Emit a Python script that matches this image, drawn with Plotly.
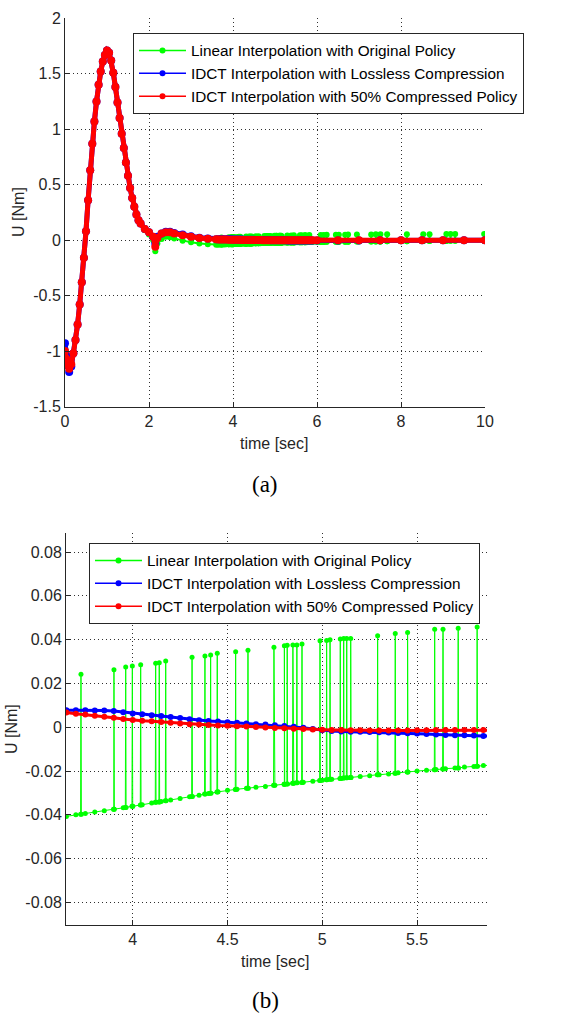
import plotly.graph_objects as go

# ---------------- data ----------------
# time samples for the transient (0 .. 3.6 s)
t_pre = [0.00, 0.03, 0.06, 0.10, 0.15, 0.20, 0.25, 0.30, 0.35, 0.40,
         0.45, 0.50, 0.55, 0.60, 0.65, 0.70, 0.75, 0.80, 0.85, 0.90,
         0.95, 1.00, 1.05, 1.10, 1.15, 1.20, 1.25, 1.30, 1.35, 1.40,
         1.45, 1.50, 1.55, 1.60, 1.65, 1.70, 1.75, 1.80, 1.90, 2.00,
         2.10, 2.15, 2.20, 2.30, 2.40, 2.50, 2.60, 2.80, 3.00, 3.20,
         3.40, 3.60]
red_pre = [-1.00, -1.07, -1.12, -1.16, -1.12, -1.02, -0.90, -0.76, -0.58, -0.38,
           -0.16, 0.08, 0.36, 0.63, 0.87, 1.07, 1.25, 1.40, 1.52, 1.61,
           1.67, 1.71, 1.69, 1.62, 1.51, 1.38, 1.24, 1.10, 0.96, 0.83,
           0.70, 0.58, 0.47, 0.38, 0.30, 0.23, 0.18, 0.15, 0.10, 0.07,
           0.03, -0.06, 0.02, 0.06, 0.07, 0.07, 0.06, 0.045, 0.03, 0.02,
           0.013, 0.008]
blue_pre = [-0.93, -1.04, -1.13, -1.19, -1.14, -1.02, -0.90, -0.76, -0.58, -0.38,
            -0.16, 0.08, 0.36, 0.63, 0.87, 1.07, 1.25, 1.40, 1.52, 1.61,
            1.67, 1.71, 1.69, 1.62, 1.51, 1.38, 1.24, 1.10, 0.96, 0.83,
            0.70, 0.58, 0.47, 0.38, 0.30, 0.23, 0.18, 0.15, 0.10, 0.07,
            0.03, -0.03, 0.03, 0.06, 0.075, 0.075, 0.065, 0.05, 0.035, 0.022,
            0.015, 0.009]
green_pre = [-1.00, -1.07, -1.12, -1.16, -1.12, -1.02, -0.90, -0.76, -0.58, -0.38,
             -0.16, 0.08, 0.36, 0.63, 0.87, 1.07, 1.25, 1.40, 1.52, 1.61,
             1.67, 1.71, 1.69, 1.62, 1.51, 1.38, 1.24, 1.10, 0.96, 0.83,
             0.70, 0.58, 0.47, 0.38, 0.30, 0.23, 0.18, 0.15, 0.09, 0.05,
             0.00, -0.10, -0.03, 0.01, 0.03, 0.025, 0.015, -0.005, -0.02, -0.03,
             -0.037, -0.041]

# time samples in the zoomed window (3.65 .. 5.85 s)
t_win = [3.65, 3.70, 3.75, 3.80, 3.85, 3.90, 3.95, 4.00, 4.05, 4.10,
         4.15, 4.20, 4.25, 4.30, 4.35, 4.40, 4.45, 4.50, 4.55, 4.60,
         4.65, 4.70, 4.75, 4.80, 4.85, 4.90, 4.95, 5.00, 5.05, 5.10,
         5.15, 5.20, 5.25, 5.30, 5.35, 5.40, 5.45, 5.50, 5.55, 5.60,
         5.65, 5.70, 5.75, 5.80, 5.85]
red_win = [0.0067, 0.0062, 0.0058, 0.0053, 0.0048, 0.0043, 0.0038, 0.0033, 0.0030, 0.0027,
           0.0024, 0.0020, 0.0017, 0.0014, 0.0012, 0.0010, 0.0008, 0.0007, 0.0005, 0.0003,
           0.0001, -0.0001, -0.0003, -0.0005, -0.0007, -0.0008, -0.0010, -0.0011, -0.0012, -0.0013,
           -0.0014, -0.0014, -0.0015, -0.0015, -0.0015, -0.0015, -0.0015, -0.0014, -0.0014, -0.0013,
           -0.0013, -0.0012, -0.0012, -0.0012, -0.0012]
blue_win = [0.0078, 0.0078, 0.0078, 0.0077, 0.0076, 0.0074, 0.0069, 0.0063, 0.0059, 0.0055,
            0.0051, 0.0047, 0.0042, 0.0036, 0.0032, 0.0029, 0.0026, 0.0023, 0.0020, 0.0017,
            0.0014, 0.0012, 0.0009, 0.0006, 0.0002, -0.0002, -0.0008, -0.0014, -0.0017, -0.0019,
            -0.0020, -0.0021, -0.0022, -0.0023, -0.0024, -0.0026, -0.0027, -0.0029, -0.0031, -0.0033,
            -0.0035, -0.0036, -0.0037, -0.0038, -0.0040]
green_win = [-0.0407, -0.0400, -0.0394, -0.0387, -0.0381, -0.0374, -0.0368, -0.0361, -0.0354, -0.0346,
             -0.0339, -0.0332, -0.0325, -0.0317, -0.0310, -0.0303, -0.0295, -0.0288, -0.0283, -0.0279,
             -0.0274, -0.0270, -0.0265, -0.0260, -0.0256, -0.0251, -0.0247, -0.0242, -0.0238, -0.0234,
             -0.0229, -0.0225, -0.0221, -0.0217, -0.0213, -0.0208, -0.0204, -0.0200, -0.0196, -0.0193,
             -0.0189, -0.0186, -0.0182, -0.0179, -0.0175]

# tail (5.9 .. 10 s)
t_post = [5.90, 6.00, 6.50, 7.00, 7.50, 8.00, 8.50, 9.00, 9.50, 10.00]
red_post = [-0.0012, -0.0011, -0.0009, -0.0007, -0.0005, -0.0004, -0.0003, -0.0002, -0.0001, 0.0]
blue_post = [-0.0040, -0.0041, -0.0035, -0.0028, -0.0020, -0.0014, -0.0009, -0.0005, -0.0002, 0.0]
green_post = [-0.0173, -0.0168, -0.0150, -0.0132, -0.0115, -0.0100, -0.0085, -0.0070, -0.0060, -0.0050]

# spikes of the linearly interpolated original policy
spike_t = [3.727, 3.901, 3.963, 3.998, 4.042, 4.121, 4.140, 4.174, 4.313, 4.381,
           4.411, 4.446, 4.543, 4.608, 4.745, 4.800, 4.815, 4.845, 4.866, 4.893,
           4.988, 5.023, 5.041, 5.095, 5.113, 5.129, 5.150, 5.292, 5.385, 5.450,
           5.593, 5.637, 5.717, 5.817, 6.09, 6.16, 6.23, 6.45, 6.52, 6.67,
           6.74, 6.95, 7.29, 7.40, 7.51, 7.67, 8.14, 8.53, 8.68, 9.08,
           9.18, 9.29, 9.98]
spike_top = [0.0242, 0.0262, 0.0275, 0.0280, 0.0285, 0.0292, 0.0295, 0.0302, 0.0320, 0.0325,
             0.0330, 0.0338, 0.0345, 0.0352, 0.0365, 0.0372, 0.0375, 0.0376, 0.0376, 0.0380,
             0.0395, 0.0396, 0.0400, 0.0403, 0.0405, 0.0405, 0.0405, 0.0418, 0.0428, 0.0433,
             0.0447, 0.0447, 0.0452, 0.0458, 0.047, 0.047, 0.048, 0.048, 0.049, 0.049,
             0.050, 0.050, 0.051, 0.052, 0.052, 0.052, 0.053, 0.054, 0.054, 0.055,
             0.055, 0.055, 0.056]
spike_foot = [-0.0397, -0.0374, -0.0366, -0.0361, -0.0355, -0.0343, -0.0341, -0.0336, -0.0316, -0.0305,
              -0.0301, -0.0296, -0.0284, -0.0278, -0.0265, -0.0260, -0.0259, -0.0256, -0.0254, -0.0252,
              -0.0243, -0.0240, -0.0238, -0.0234, -0.0232, -0.0231, -0.0229, -0.0217, -0.0210, -0.0204,
              -0.0194, -0.0191, -0.0186, -0.0178, -0.0165, -0.0160, -0.0157, -0.0150, -0.0147, -0.0142,
              -0.0140, -0.0133, -0.0122, -0.0118, -0.0115, -0.0110, -0.0095, -0.0085, -0.0080, -0.0070,
              -0.0067, -0.0064, -0.0050]

names = ["Linear Interpolation with Original Policy",
         "IDCT Interpolation with Lossless Compression",
         "IDCT Interpolation with 50% Compressed Policy"]
colors = ["#00FF00", "#0000FF", "#FF0000"]

top_xticks = [0, 2, 4, 6, 8, 10]
top_yticks = [-1.5, -1, -0.5, 0, 0.5, 1, 1.5, 2]
top_yticktext = ["-1.5", "-1", "-0.5", "0", "0.5", "1", "1.5", "2"]
bot_xticks = [4, 4.5, 5, 5.5]
bot_xticktext = ["4", "4.5", "5", "5.5"]
bot_yticks = [-0.08, -0.06, -0.04, -0.02, 0, 0.02, 0.04, 0.06, 0.08]
bot_yticktext = ["-0.08", "-0.06", "-0.04", "-0.02", "0", "0.02", "0.04", "0.06", "0.08"]

for a, b in [(t_pre, red_pre), (t_pre, blue_pre), (t_pre, green_pre),
             (t_win, red_win), (t_win, blue_win), (t_win, green_win),
             (t_post, red_post), (t_post, blue_post), (t_post, green_post),
             (spike_t, spike_top), (spike_t, spike_foot)]:
    assert len(a) == len(b), (len(a), len(b))

# ---------------- assemble series ----------------
t_idct = t_pre + t_win + t_post
u_red = red_pre + red_win + red_post
u_blue = blue_pre + blue_win + blue_post

pts = list(zip(t_pre + t_win + t_post, green_pre + green_win + green_post))
for ts, top, foot in zip(spike_t, spike_top, spike_foot):
    pts += [(ts - 0.002, foot), (ts, top), (ts + 0.002, foot)]
pts.sort(key=lambda p: p[0])
t_green = [p[0] for p in pts]
u_green = [p[1] for p in pts]

series = [(t_green, u_green), (t_idct, u_blue), (t_idct, u_red)]

fig = go.Figure()

top_style = [dict(lw=2, ms=6), dict(lw=5, ms=8), dict(lw=5, ms=8)]
bot_style = [dict(lw=1, ms=5), dict(lw=3, ms=6), dict(lw=3, ms=6)]

for (tx, uy), c, st in zip(series, colors, top_style):
    fig.add_trace(go.Scatter(x=tx, y=uy, mode="lines+markers",
                             line=dict(color=c, width=st["lw"]),
                             marker=dict(color=c, size=st["ms"]),
                             showlegend=False, xaxis="x", yaxis="y"))
for (tx, uy), c, st in zip(series, colors, bot_style):
    fig.add_trace(go.Scatter(x=tx, y=uy, mode="lines+markers",
                             line=dict(color=c, width=st["lw"]),
                             marker=dict(color=c, size=st["ms"]),
                             showlegend=False, xaxis="x2", yaxis="y2"))

# legend entries
for leg, xa, ya in [("legend", "x", "y"), ("legend2", "x2", "y2")]:
    for n, c in zip(names, colors):
        fig.add_trace(go.Scatter(x=[None], y=[None], mode="lines+markers", name=n,
                                 line=dict(color=c, width=1.5),
                                 marker=dict(color=c, size=6),
                                 legend=leg, xaxis=xa, yaxis=ya))

W, H = 566, 1014
FONT = "Liberation Sans, Arial, sans-serif"
AX = "#262626"

axis_common = dict(showline=True, linecolor=AX, linewidth=1, mirror=False,
                   ticks="inside", ticklen=5, tickcolor=AX, tickwidth=1,
                   showgrid=True, gridcolor="#303030", gridwidth=1, griddash="1px,3px",
                   zeroline=False, tickfont=dict(family=FONT, size=16, color=AX))

legend_common = dict(bgcolor="white", bordercolor=AX, borderwidth=1,
                     font=dict(family=FONT, size=15.3, color="black"),
                     xanchor="left", yanchor="top", itemwidth=47,
                     traceorder="normal")

fig.update_layout(
    width=W, height=H, template="none",
    paper_bgcolor="white", plot_bgcolor="white",
    margin=dict(l=0, r=0, t=0, b=0),
    xaxis=dict(domain=[65 / W, 485 / W], range=[0, 10], anchor="y",
               tickvals=top_xticks, ticktext=[str(v) for v in top_xticks], **axis_common),
    yaxis=dict(domain=[1 - 406.5 / H, 1 - 18.3 / H], range=[-1.5, 2], anchor="x",
               tickvals=top_yticks, ticktext=top_yticktext, **axis_common),
    xaxis2=dict(domain=[66 / W, 487 / W], range=[3.648, 5.869], anchor="y2",
                tickvals=bot_xticks, ticktext=bot_xticktext, **axis_common),
    yaxis2=dict(domain=[1 - 925 / H, 1 - 533 / H], range=[-0.0903, 0.0887], anchor="x2",
                tickvals=bot_yticks, ticktext=bot_yticktext, **axis_common),
    legend=dict(x=133 / W, y=1 - 33 / H, **legend_common),
    legend2=dict(x=89 / W, y=1 - 543 / H, **legend_common),
    showlegend=True,
)

ann_font = dict(family=FONT, size=16, color=AX)
cap_font = dict(family="Liberation Serif, Times New Roman, serif", size=23, color="black")
anns = [
    dict(text="U [Nm]", x=18.5 / W, y=1 - 212.4 / H, textangle=-90, font=ann_font),
    dict(text="U [Nm]", x=11 / W, y=1 - 729 / H, textangle=-90, font=ann_font),
    dict(text="time [sec]", x=274 / W, y=1 - 443.3 / H, font=ann_font),
    dict(text="time [sec]", x=275 / W, y=1 - 961 / H, font=ann_font),
    dict(text="(a)", x=265 / W, y=1 - 484 / H, font=cap_font),
    dict(text="(b)", x=265 / W, y=1 - 1000.5 / H, font=cap_font),
]
for a in anns:
    fig.add_annotation(xref="paper", yref="paper", showarrow=False,
                       xanchor="center", yanchor="middle", **a)

fig.write_html("out.html",
               config={"displayModeBar": False, "staticPlot": True},
               post_script="document.body.style.margin='0';document.body.style.overflow='hidden';")
